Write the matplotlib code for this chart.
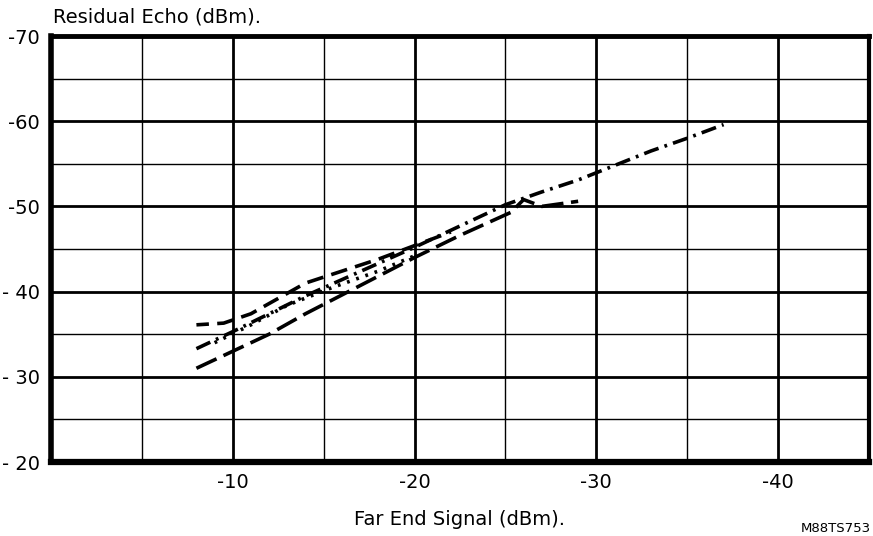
import matplotlib
matplotlib.use('Agg')
import matplotlib.pyplot as plt

plt.rcParams['font.family'] = ['DejaVu Sans']
plt.rcParams['lines.scale_dashes'] = False

# curves (far end signal, residual echo), dBm
dashdot_x = [-8, -10, -12, -14, -16, -18, -20, -22.5, -25, -27, -29, -31, -33, -35, -37]
dashdot_y = [-33.3, -35.3, -37.4, -39.5, -41.4, -43.3, -45.2, -47.7, -50.2, -51.7, -53.1, -54.8, -56.5, -58.0, -59.6]

longdash_x = [-8, -10, -12, -14, -16, -18, -20, -22.5, -25.3, -26, -27, -29]
longdash_y = [-31.0, -33.0, -35.0, -37.4, -39.6, -41.8, -44.0, -46.6, -49.3, -50.8, -50.0, -50.6]

dashed_x = [-8, -9.5, -11, -12.5, -14, -16, -18, -20, -22]
dashed_y = [-36.1, -36.3, -37.4, -39.2, -41.0, -42.4, -43.8, -45.4, -47.0]

dotted_x = [-9, -11, -13, -15.5, -18, -20]
dotted_y = [-34.0, -36.1, -38.4, -40.5, -42.4, -44.2]

x_ticks = [-10, -20, -30, -40]
x_labels = ['-10', '-20', '-30', '-40']
y_ticks = [-70, -60, -50, -40, -30, -20]
y_labels = ['-70', '-60', '-50', '- 40', '- 30', '- 20']

fig = plt.figure(figsize=(8.73, 5.36), dpi=100)
ax = fig.add_axes([51 / 873, 1 - 462 / 536, 818 / 873, 426 / 536])

# grid: heavy lines every 10, light every 5
for v in range(-5, -45, -5):
    ax.axvline(v, color='black', lw=2.0 if v % 10 == 0 else 1.0, zorder=1)
for v in range(-25, -70, -5):
    ax.axhline(v, color='black', lw=2.0 if v % 10 == 0 else 1.0, zorder=1)

ax.plot(dashdot_x, dashdot_y, color='black', lw=2.6, ls=(0, (11, 4.5, 2, 4.5)), zorder=3)
ax.plot(longdash_x, longdash_y, color='black', lw=2.6, ls=(0, (16, 5.5)), zorder=3)
ax.plot(dashed_x, dashed_y, color='black', lw=2.6, ls=(3, (12, 6)), zorder=3)
ax.plot(dotted_x, dotted_y, color='black', lw=2.6, ls=(0, (2, 5)), zorder=3)

ax.set_xlim(0, -45)
ax.set_ylim(-20, -70)
ax.set_xticks(x_ticks)
ax.set_xticklabels(x_labels, fontsize=14)
ax.set_yticks(y_ticks)
ax.set_yticklabels(y_labels, fontsize=14)
ax.tick_params(length=0, pad=8)

for side, w in [('left', 4.0), ('bottom', 4.5), ('top', 3.5), ('right', 3.0)]:
    ax.spines[side].set_linewidth(w)

fig.text(53 / 873, 1 - 17 / 536, 'Residual Echo (dBm).', fontsize=14, va='center', ha='left')
ax.set_xlabel('Far End Signal (dBm).', fontsize=14, labelpad=13)
fig.text(871 / 873, 1 - 529 / 536, 'M88TS753', fontsize=9.5, va='center', ha='right')

fig.savefig('out.png', dpi=100)
